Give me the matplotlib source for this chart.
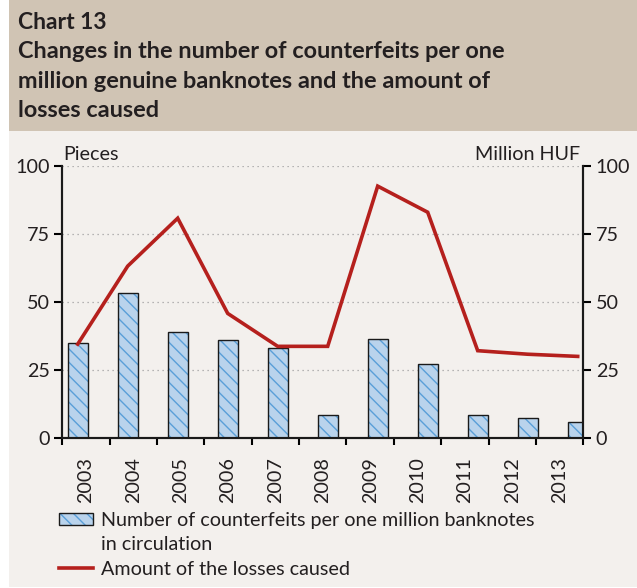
import numpy as np
import matplotlib
matplotlib.use("Agg")
import matplotlib.pyplot as plt
from matplotlib.patches import Rectangle
from matplotlib.lines import Line2D
from matplotlib.legend_handler import HandlerTuple

plt.rcParams['font.family'] = ['Lato', 'DejaVu Sans']

# данные
years = ["2003", "2004", "2005", "2006", "2007", "2008", "2009", "2010", "2011", "2012", "2013"]
counterfeits = [35.0, 53.4, 39.1, 36.1, 33.2, 8.5, 36.3, 27.3, 8.5, 7.5, 5.8]
losses = [34.5, 63.2, 80.8, 45.8, 33.7, 33.7, 92.6, 83.0, 32.1, 30.8, 30.0]

# dpi 80 -> штриховка с шагом как в оригинале; размеры в пунктах умножаем на K
DPI = 80
K = 100 / DPI
W, H = 637, 588
FS = 14.2 * K
TXT = "#231f20"
HATCH = "\\\\"
plt.rcParams['hatch.linewidth'] = 1.0 * K
fig = plt.figure(figsize=(W / DPI, H / DPI), dpi=DPI, facecolor="white")

# фон: шапка и основная часть
fig.patches.append(Rectangle((9 / W, 1 / H), 1, (H - 132) / H, transform=fig.transFigure,
                             facecolor="#f3f0ed", edgecolor="none", zorder=-10))
fig.patches.append(Rectangle((9 / W, (H - 131) / H), 1, 131 / H, transform=fig.transFigure,
                             facecolor="#d0c4b4", edgecolor="none", zorder=-10))

# заголовок, построчно по базовой линии
fig.text(18 / W, 1 - 29 / H, "Chart 13", fontsize=16.5 * K, fontweight="bold", color=TXT, va="baseline")
title_lines = ["Changes in the number of counterfeits per one",
               "million genuine banknotes and the amount of",
               "losses caused"]
for i, s in enumerate(title_lines):
    fig.text(18 / W, 1 - (58 + 29.5 * i) / H, s, fontsize=16.9 * K, fontweight="bold", color=TXT, va="baseline")

left, right = 62.2, 583.3
bottom, top = 438, 166
ax = fig.add_axes([left / W, (H - bottom) / H, (right - left) / W, (bottom - top) / H])
ax.set_facecolor("none")

x = np.arange(len(years))
x0 = -0.31
x1 = x0 + (right - left) / 50.0
ax.set_xlim(x0, x1)
ax.set_ylim(0, 100)

ax.bar(x, counterfeits, width=0.4, color="#b9d3ec", edgecolor="#5a9fd8", hatch=HATCH,
       linewidth=0, zorder=2)
ax.bar(x, counterfeits, width=0.4, color="none", edgecolor="#1a1a1a", linewidth=1.0 * K, zorder=3)

ax2 = ax.twinx()
ax2.set_ylim(0, 100)
line, = ax2.plot(x, losses, color="#b5201d", linewidth=2.6 * K, zorder=4, solid_joinstyle="miter")

# сетка
for v in [25, 50, 75, 100]:
    ax.axhline(v, color="#a0a0a0", linestyle=(0, (1, 3)), linewidth=0.9 * K, zorder=1)

# оси
ticks = np.linspace(x0, x1, 12)
ax.set_xticks(ticks)
ax.set_xticklabels([])
ax.set_xticks((ticks[:-1] + ticks[1:]) / 2, minor=True)
ax.set_xticklabels(years, minor=True, rotation=90, fontsize=FS, color=TXT)
ax.tick_params(axis="x", which="major", length=5 * K, width=1.5 * K, direction="out")
ax.tick_params(axis="x", which="minor", length=0, pad=14 * K)

ax.set_yticks([0, 25, 50, 75, 100])
ax.tick_params(axis="y", length=6 * K, width=1.5 * K, labelsize=FS, labelcolor=TXT, pad=3 * K)
ax2.set_yticks([0, 25, 50, 75, 100])
ax2.tick_params(axis="y", length=6 * K, width=1.5 * K, labelsize=FS, labelcolor=TXT, pad=3 * K)

for a in (ax, ax2):
    a.spines["top"].set_visible(False)
    for s in ["left", "right", "bottom"]:
        a.spines[s].set_linewidth(1.5 * K)
        a.spines[s].set_color("#1a1a1a")

fig.text(63 / W, 1 - 154 / H, "Pieces", fontsize=FS, color=TXT, va="center")
fig.text(580 / W, 1 - 154 / H, "Million HUF", fontsize=FS, color=TXT, va="center", ha="right")

# легенда
patch_fill = Rectangle((0, 0), 1, 1, facecolor="#b9d3ec", edgecolor="#5a9fd8", hatch=HATCH, linewidth=0)
patch_edge = Rectangle((0, 0), 1, 1, facecolor="none", edgecolor="#1a1a1a", linewidth=1.0 * K)
blank = Line2D([], [], color="none")
leg = fig.legend([(patch_fill, patch_edge), blank, line],
                 ["Number of counterfeits per one million banknotes", "in circulation", "Amount of the losses caused"],
                 handler_map={tuple: HandlerTuple(ndivide=1, pad=0)},
                 loc="upper left", bbox_to_anchor=(59 / W, 1 - 512 / H), frameon=False,
                 fontsize=FS, handlelength=1.7, handleheight=0.6, handletextpad=0.45,
                 labelspacing=0.38, borderaxespad=0, borderpad=0)
for t in leg.get_texts():
    t.set_color(TXT)

fig.savefig("out.png", dpi=DPI, facecolor=fig.get_facecolor())
